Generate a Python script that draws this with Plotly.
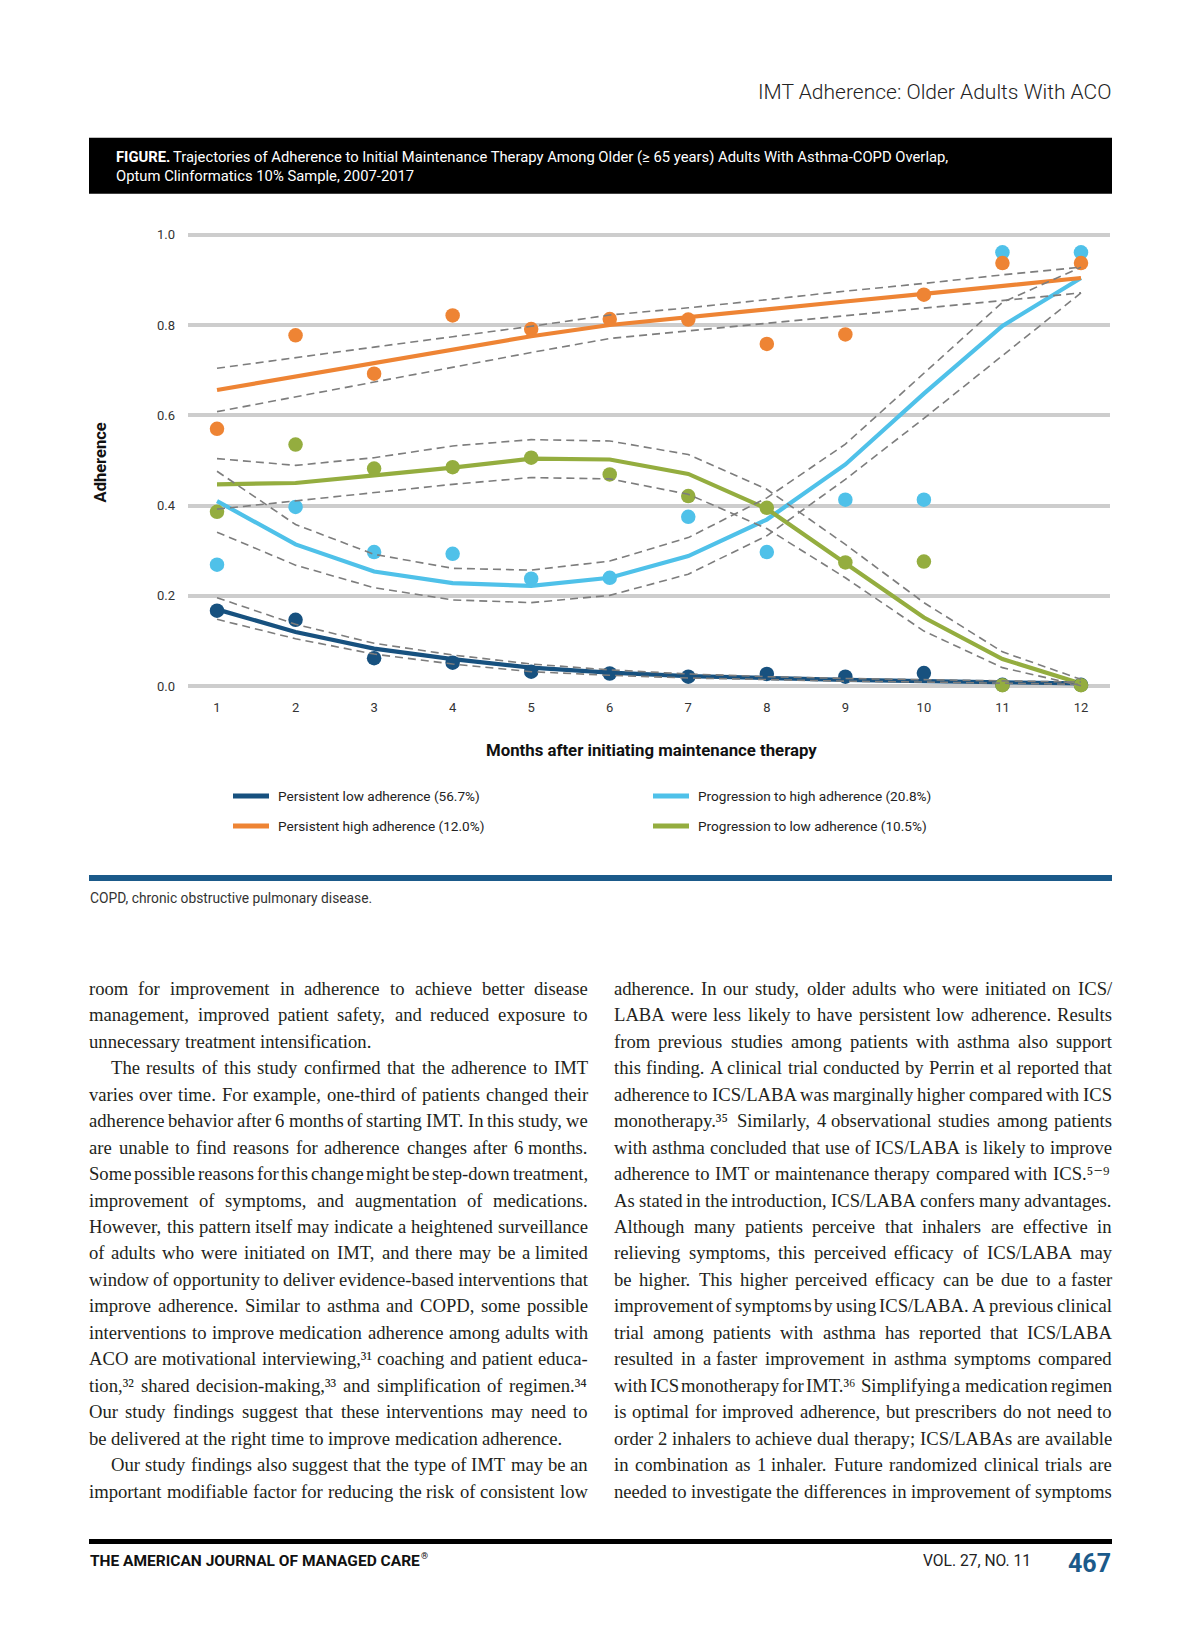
import plotly.graph_objects as go

W, H = 1200, 1638

# ---------------- data ----------------
months = list(range(1, 13))
y_ticks = [0.0, 0.2, 0.4, 0.6, 0.8, 1.0]

low_obs   = [0.167, 0.147, 0.062, 0.052, 0.032, 0.028, 0.021, 0.027, 0.021, 0.029, 0.003, 0.003]
low_fit   = [0.170, 0.120, 0.083, 0.060, 0.041, 0.030, 0.022, 0.017, 0.014, 0.011, 0.009, 0.006]
low_upper = [0.196, 0.137, 0.095, 0.069, 0.049, 0.036, 0.027, 0.021, 0.017, 0.014, 0.011, 0.009]
low_lower = [0.148, 0.105, 0.071, 0.049, 0.032, 0.024, 0.018, 0.014, 0.011, 0.009, 0.007, 0.004]

tohigh_obs   = [0.269, 0.397, 0.297, 0.293, 0.238, 0.240, 0.375, 0.297, 0.413, 0.413, 0.961, 0.961]
tohigh_fit   = [0.410, 0.314, 0.254, 0.228, 0.222, 0.240, 0.288, 0.369, 0.491, 0.648, 0.798, 0.904]
tohigh_upper = [0.476, 0.358, 0.292, 0.261, 0.257, 0.277, 0.329, 0.417, 0.536, 0.693, 0.850, 0.928]
tohigh_lower = [0.341, 0.268, 0.218, 0.191, 0.185, 0.201, 0.248, 0.333, 0.458, 0.593, 0.732, 0.871]

tolow_obs   = [0.386, 0.535, 0.482, 0.485, 0.506, 0.469, 0.421, 0.395, 0.274, 0.276, 0.002, 0.002]
tolow_fit   = [0.447, 0.450, 0.467, 0.484, 0.504, 0.502, 0.470, 0.393, 0.272, 0.152, 0.060, 0.006]
tolow_upper = [0.504, 0.489, 0.506, 0.532, 0.546, 0.543, 0.513, 0.436, 0.314, 0.185, 0.076, 0.015]
tolow_lower = [0.392, 0.410, 0.428, 0.447, 0.462, 0.459, 0.425, 0.349, 0.240, 0.122, 0.041, 0.001]

high_obs   = [0.570, 0.777, 0.692, 0.821, 0.791, 0.813, 0.812, 0.758, 0.779, 0.867, 0.937, 0.937]
high_fit   = [0.656, 0.686, 0.715, 0.745, 0.775, 0.800, 0.818, 0.835, 0.852, 0.869, 0.887, 0.904]
high_upper = [0.704, 0.728, 0.751, 0.774, 0.797, 0.822, 0.838, 0.856, 0.875, 0.892, 0.911, 0.928]
high_lower = [0.608, 0.641, 0.673, 0.706, 0.739, 0.770, 0.787, 0.804, 0.820, 0.837, 0.854, 0.871]

legend_labels = ["Persistent low adherence (56.7%)", "Persistent high adherence (12.0%)",
                 "Progression to high adherence (20.8%)", "Progression to low adherence (10.5%)"]

header_text = "IMT Adherence: Older Adults With ACO"
caption_lead = "FIGURE."
caption_1 = ("Trajectories of Adherence to Initial Maintenance Therapy Among Older "
             "(\u2265 65 years) Adults With Asthma-COPD Overlap,")
caption_2 = "Optum Clinformatics 10% Sample, 2007-2017"
x_title = "Months after initiating maintenance therapy"
y_title = "Adherence"
note_text = "COPD, chronic obstructive pulmonary disease."

S31 = "\u00b3\u00b9"
S32 = "\u00b3\u00b2"
S33 = "\u00b3\u00b3"
S34 = "\u00b3\u2074"
S35 = "\u00b3\u2075"
S36 = "\u00b3\u2076"
S59 = "\u2075\u207b\u2079"

left_lines = [
    "room for improvement in adherence to achieve better disease",
    "management, improved patient safety, and reduced exposure to",
    "unnecessary treatment intensification.",
    "The results of this study confirmed that the adherence to IMT",
    "varies over time. For example, one-third of patients changed their",
    "adherence behavior after 6 months of starting IMT. In this study, we",
    "are unable to find reasons for adherence changes after 6 months.",
    "Some possible reasons for this change might be step-down treatment,",
    "improvement of symptoms, and augmentation of medications.",
    "However, this pattern itself may indicate a heightened surveillance",
    "of adults who were initiated on IMT, and there may be a limited",
    "window of opportunity to deliver evidence-based interventions that",
    "improve adherence. Similar to asthma and COPD, some possible",
    "interventions to improve medication adherence among adults with",
    "ACO are motivational interviewing," + S31 + " coaching and patient educa-",
    "tion," + S32 + " shared decision-making," + S33 + " and simplification of regimen." + S34,
    "Our study findings suggest that these interventions may need to",
    "be delivered at the right time to improve medication adherence.",
    "Our study findings also suggest that the type of IMT may be an",
    "important modifiable factor for reducing the risk of consistent low",
]
left_indent = {3, 18}
left_last = {2, 17}

right_lines = [
    "adherence. In our study, older adults who were initiated on ICS/",
    "LABA were less likely to have persistent low adherence. Results",
    "from previous studies among patients with asthma also support",
    "this finding. A clinical trial conducted by Perrin et al reported that",
    "adherence to ICS/LABA was marginally higher compared with ICS",
    "monotherapy." + S35 + " Similarly, 4 observational studies among patients",
    "with asthma concluded that use of ICS/LABA is likely to improve",
    "adherence to IMT or maintenance therapy compared with ICS." + S59,
    "As stated in the introduction, ICS/LABA confers many advantages.",
    "Although many patients perceive that inhalers are effective in",
    "relieving symptoms, this perceived efficacy of ICS/LABA may",
    "be higher. This higher perceived efficacy can be due to a faster",
    "improvement of symptoms by using ICS/LABA. A previous clinical",
    "trial among patients with asthma has reported that ICS/LABA",
    "resulted in a faster improvement in asthma symptoms compared",
    "with ICS monotherapy for IMT." + S36 + " Simplifying a medication regimen",
    "is optimal for improved adherence, but prescribers do not need to",
    "order 2 inhalers to achieve dual therapy; ICS/LABAs are available",
    "in combination as 1 inhaler. Future randomized clinical trials are",
    "needed to investigate the differences in improvement of symptoms",
]
right_indent = set()
right_last = set()

footer_left = "THE AMERICAN JOURNAL OF MANAGED CARE"
footer_mark = "\u00ae"
footer_vol = "VOL. 27, NO. 11"
footer_page = "467"

# ---------------- style ----------------
NAVY = "#17517f"
LBLUE = "#4fc1e9"
ORANGE = "#ee8434"
GREEN = "#94ad3f"
DASH = "#7d7d7d"
SANS = "Roboto, 'Open Sans', sans-serif"
SERIF = "'Liberation Serif', 'DejaVu Serif', serif"
TXT = "#231f20"

def px(x):
    return x / W

def py(y):
    return 1 - y / H

fig = go.Figure()

series = [
    (low_obs, low_fit, low_upper, low_lower, NAVY),
    (tohigh_obs, tohigh_fit, tohigh_upper, tohigh_lower, LBLUE),
    (tolow_obs, tolow_fit, tolow_upper, tolow_lower, GREEN),
    (high_obs, high_fit, high_upper, high_lower, ORANGE),
]

for obs, fit, up, lo, col in series:
    fig.add_trace(go.Scatter(x=months, y=fit, mode="lines", line=dict(color=col, width=4.2),
                             cliponaxis=False, hoverinfo="skip"))
for obs, fit, up, lo, col in series:
    fig.add_trace(go.Scatter(x=months, y=obs, mode="markers", marker=dict(color=col, size=14.5),
                             cliponaxis=False, hoverinfo="skip"))
for obs, fit, up, lo, col in series:
    for band in (up, lo):
        fig.add_trace(go.Scatter(x=months, y=band, mode="lines",
                                 line=dict(color=DASH, width=1.6, dash="8px,5px"),
                                 cliponaxis=False, hoverinfo="skip"))

annotations = []
shapes = []

def add_text(x, y, text, size, color=TXT, family=SANS, xanchor="left", yanchor="middle",
             angle=0, weight=None):
    f = dict(family=family, size=size, color=color)
    if weight is not None:
        f["weight"] = weight
    annotations.append(dict(x=px(x), y=py(y), xref="paper", yref="paper", text=text,
                            showarrow=False, xanchor=xanchor, yanchor=yanchor,
                            textangle=angle, font=f, borderpad=0))

# header
add_text(1112, 92, header_text, 21, color="#222222", xanchor="right", weight=300)
# black caption box
shapes.append(dict(type="rect", xref="paper", yref="paper", x0=px(89), x1=px(1112),
                   y0=py(194), y1=py(138), fillcolor="#000000", line=dict(width=0), layer="below"))
add_text(115, 157, caption_lead, 14.8, color="#ffffff", weight="bold")
add_text(172, 157, caption_1, 14.8, color="#ffffff")
add_text(115, 176, caption_2, 14.8, color="#ffffff")

# axis titles
add_text(100, 463, y_title, 16.5, color="#111111", xanchor="center", angle=-90, weight="bold")
add_text(651, 751, x_title, 16.8, color="#111111", xanchor="center", weight="bold")

# legend
leg_pos = [(233, 797, NAVY), (233, 827, ORANGE), (653, 797, LBLUE), (653, 827, GREEN)]
for (lx, ly, col), lab in zip(leg_pos, legend_labels):
    shapes.append(dict(type="line", xref="paper", yref="paper", x0=px(lx), x1=px(lx + 36),
                       y0=py(ly), y1=py(ly), line=dict(color=col, width=5)))
    add_text(lx + 44, ly, lab, 13.6, color="#222222")

# blue rule and note
shapes.append(dict(type="rect", xref="paper", yref="paper", x0=px(89), x1=px(1112),
                   y0=py(882), y1=py(876), fillcolor="#1b5a8a", line=dict(width=0)))
add_text(89, 899, note_text, 13.8, color="#333333")

# ---------------- body text (justified) ----------------
TW = {' ': 250, '!': 333, '"': 408, '%': 833, '&': 778, "'": 333, '(': 333, ')': 333,
      ',': 250, '-': 333, '.': 250, '/': 278, ':': 278, ';': 278, '?': 444, '\u00ae': 760,
      '\u2013': 500}
for d in "0123456789":
    TW[d] = 500
for s in "\u00b9\u00b2\u00b3":
    TW[s] = 300
for s in "\u2074\u2075\u2076\u2077\u2078\u2079":
    TW[s] = 400
TW['\u207b'] = 560
TW.update(dict(zip("ABCDEFGHIJKLMNOPQRSTUVWXYZ",
                   [722, 667, 667, 722, 611, 556, 722, 722, 333, 389, 722, 611, 889, 722, 722,
                    556, 722, 667, 556, 611, 722, 722, 944, 722, 722, 611])))
TW.update(dict(zip("abcdefghijklmnopqrstuvwxyz",
                   [444, 500, 444, 500, 444, 333, 500, 500, 278, 278, 500, 278, 778, 500, 500,
                    500, 500, 333, 389, 278, 500, 500, 722, 500, 500, 444])))

def word_em(w):
    return sum(TW.get(c, 500) for c in w) / 1000.0

def chunks(line):
    # keep one-letter words attached to the following word
    words = line.split(" ")
    out, carry = [], ""
    for w in words:
        if carry:
            w = carry + " " + w
            carry = ""
        if len(w) == 1:
            carry = w
            continue
        out.append(w)
    if carry:
        if out:
            out[-1] = out[-1] + " " + carry
        else:
            out.append(carry)
    return out

COLS = [(left_lines, left_indent, left_last, 88, 587), (right_lines, right_indent, right_last, 613, 1111)]
INDENT = 22
LINE0 = 989.5
LSTEP = 26.5

fs = 19.5
for lines, ind, last, x0, x1 in COLS:
    for i, ln in enumerate(lines):
        if i in last:
            continue
        ws = chunks(ln)
        avail = (x1 - x0) - (INDENT if i in ind else 0) - (len(ws) - 1) * 2.5
        fs = min(fs, avail / sum(word_em(w) for w in ws))

for lines, ind, last, x0, x1 in COLS:
    for i, ln in enumerate(lines):
        ws = chunks(ln)
        widths = [word_em(w) * fs for w in ws]
        start = x0 + (INDENT if i in ind else 0)
        if i in last or len(ws) == 1:
            gap = 0.25 * fs
        else:
            gap = ((x1 - start) - sum(widths)) / (len(ws) - 1)
        yy = LINE0 + i * LSTEP
        xx = start
        for w, wd in zip(ws, widths):
            add_text(xx, yy, w, fs, color=TXT, family=SERIF)
            xx += wd + gap

# footer
shapes.append(dict(type="rect", xref="paper", yref="paper", x0=px(89), x1=px(1112),
                   y0=py(1546), y1=py(1541), fillcolor="#000000", line=dict(width=0)))
add_text(89, 1563, footer_left, 15.5, color="#111111", weight="bold")
add_text(420, 1558, footer_mark, 9, color="#111111", weight="bold")
add_text(1032, 1563, footer_vol, 15.6, color="#222222", xanchor="right")
add_text(1112, 1565, footer_page, 25, color="#1b5a8a", xanchor="right", weight="bold")

# ---------------- layout ----------------
plot_left, plot_right = 188, 1110
plot_top, plot_bottom = 221.4, 692.4

fig.update_layout(
    width=W, height=H,
    margin=dict(l=0, r=0, t=0, b=0),
    paper_bgcolor="white", plot_bgcolor="white",
    showlegend=False,
    xaxis=dict(domain=[px(plot_left), px(plot_right)], range=[0.6306, 12.3694],
               tickmode="array", tickvals=months, ticktext=[str(m) for m in months],
               showgrid=False, zeroline=False, showline=False, ticks="",
               tickfont=dict(family=SANS, size=13, color="#333333"), ticklabelstandoff=6),
    yaxis=dict(domain=[py(plot_bottom), py(plot_top)], range=[-0.012, 1.03],
               tickmode="array", tickvals=y_ticks, ticktext=["%.1f" % v for v in y_ticks],
               showgrid=True, gridcolor="#cdcdcd", gridwidth=4,
               zeroline=True, zerolinecolor="#cdcdcd", zerolinewidth=4,
               showline=False, ticks="",
               tickfont=dict(family=SANS, size=13, color="#333333"), ticklabelstandoff=12),
    annotations=annotations,
    shapes=shapes,
)

fig.write_html("out.html", config={"displayModeBar": False},
               post_script="document.body.style.margin='0px';")
